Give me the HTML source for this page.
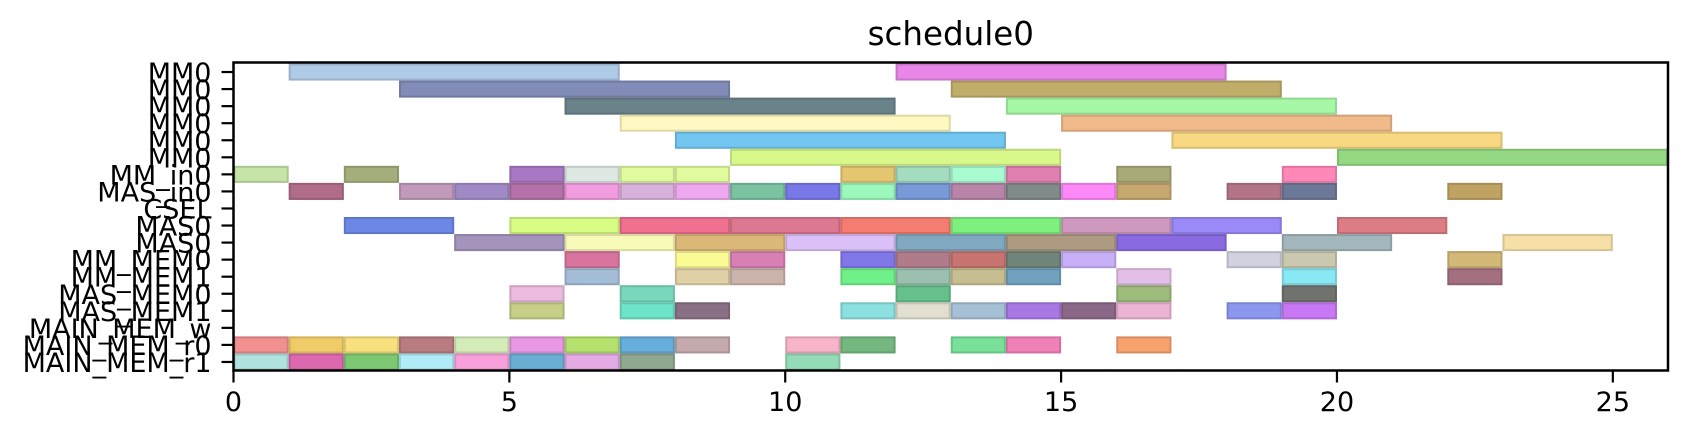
<!DOCTYPE html>
<html><head><meta charset="utf-8"><style>
html,body{margin:0;padding:0;background:#fff;}
svg{display:block;font-family:"DejaVu Sans","Liberation Sans",sans-serif;}
</style></head><body>
<svg id="chart" width="1687" height="438" xmlns="http://www.w3.org/2000/svg"></svg>
<script>
const rowLabels = ["MM0","MM0","MM0","MM0","MM0","MM0","MM_in0","MAS_in0","CSEL","MAS0","MAS0","MM_MEM0","MM_MEM1","MAS_MEM0","MAS_MEM1","MAIN_MEM_w","MAIN_MEM_r0","MAIN_MEM_r1"];
const xTicks = [0,5,10,15,20,25];
// task rows, start times, durations, colours
const taskRow = [
0,0, 1,1, 2,2, 3,3, 4,4, 5,5,
6,6,6,6,6,6,6,6,6,6,6,6,
7,7,7,7,7,7,7,7,7,7,7,7,7,7,7,7,7,7,
9,9,9,9,9,9,9,9,9,
10,10,10,10,10,10,10,10,10,
11,11,11,11,11,11,11,11,11,11,11,
12,12,12,12,12,12,12,12,12,12,
13,13,13,13,13,
14,14,14,14,14,14,14,14,14,14,14,
16,16,16,16,16,16,16,16,16,16,16,16,16,16,
17,17,17,17,17,17,17,17,17];
const taskStart = [
1,12, 3,13, 6,14, 7,15, 8,17, 9,20,
0,2,5,6,7,8,11,12,13,14,16,19,
1,3,4,5,6,7,8,9,10,11,12,13,14,15,16,18,19,22,
2,5,7,9,11,13,15,17,20,
4,6,8,10,12,14,16,19,23,
6,8,9,11,12,13,14,15,18,19,22,
6,8,9,11,12,13,14,16,19,22,
5,7,12,16,19,
5,7,8,11,12,13,14,15,16,18,19,
0,1,2,3,4,5,6,7,8,10,11,13,14,16,
0,1,2,3,4,5,6,7,10];
const taskDur = [
6,6, 6,6, 6,6, 6,6, 6,6, 6,6,
1,1,1,1,1,1,1,1,1,1,1,1,
1,1,1,1,1,1,1,1,1,1,1,1,1,1,1,1,1,1,
2,2,2,2,2,2,2,2,2,
2,2,2,2,2,2,2,2,2,
1,1,1,1,1,1,1,1,1,1,1,
1,1,1,1,1,1,1,1,1,1,
1,1,1,1,1,
1,1,1,1,1,1,1,1,1,1,1,
1,1,1,1,1,1,1,1,1,1,1,1,1,1,
1,1,1,1,1,1,1,1,1];
const taskColor = [
"#b0cbe8","#e887e8","#828cb8","#c0ad6a","#6a828a","#a6f8a6","#fff8c0","#f0ba8a","#72c6f0","#f8d880","#d8f88a","#94d884",
"#c6e4a8","#a4ae7c","#a878c4","#dee9e3","#e0fa9e","#e0fa9e","#e4c670","#a4dcc0","#a8fbd0","#e080b0","#a8aa78","#ff88b8",
"#b06c88","#c09ab8","#a08ac6","#b472a8","#f29ce0","#d8b0dc","#eea8f0","#7ac2a0","#7878e8","#9cf8bc","#7898d8","#b884a8","#808a88","#ff88f8","#c6a870","#b47488","#6c7898","#c0a262",
"#6c88e4","#d8fc84","#f07090","#dc7890","#f47c70","#7ef07e","#d09ac0","#9a8af8","#dc7c84",
"#a494bc","#f8fab8","#dcb878","#dcc0f8","#80a8c0","#ae9a80","#8a6ae0","#a2b6bc","#f6e0a8",
"#d8749e","#fbfb96","#d880b4","#8078e8","#b07c8a","#c87470","#70847a","#c8b0f8","#d0d2e0","#cac8ae","#d4b878",
"#a4bed8","#e0d0a6","#ccb4ac","#70f088","#9cc0b0","#c6be90","#70a2c0","#e4c0e8","#88e8f4","#a47080",
"#ecbce0","#7ad8bc","#66c08c","#9ebc7c","#70726e",
"#c6ce88","#6ee4ca","#8a7084","#8ce0e0","#e2ded0","#a6c0d6","#aa78e4","#8c6888","#ecb4d4","#8c98f0","#c878f4",
"#f29090","#f0cc68","#f8e07e","#b87c80","#d4ecb8","#e898e4","#b4e26c","#68aedc","#c4aaac","#f8b4c8","#74b880","#78e098","#f080b8","#f8a270",
"#b0e2de","#dc68b0","#7ec874","#b0ecf8","#f8a0dc","#6aaed4","#e4aae4","#90a890","#94dcb8"];

const svg = document.getElementById('chart');
const NS = "http://www.w3.org/2000/svg";
const X0 = 233.5, X1 = 1668, XMAX = 26;
const Y0 = 62.5, Y1 = 370.5;
const rowH = (Y1 - Y0 - 1) / rowLabels.length;
function xs(v){ return X0 + (X1 - X0) * v / XMAX; }
function yc(r){ return Y0 + 1 + rowH * (r + 0.5); }
function mk(tag, attrs, parent){
  const e = document.createElementNS(NS, tag);
  for (const k in attrs) e.setAttribute(k, attrs[k]);
  (parent || svg).appendChild(e);
  return e;
}

const title = mk('text', {x:(X0+X1)/2, y:45, 'text-anchor':'middle', 'font-size':32.5, fill:'#000'});


title.textContent = 'schedule0';

const bars = mk('g', {});


for (let i = 0; i < taskRow.length; i++) {
  const x = xs(taskStart[i]), w = xs(taskStart[i] + taskDur[i]) - x;
  const c = yc(taskRow[i]);
  const r = mk('rect', {x:x+1, y:c - rowH/2 + 1, width:w-2, height:rowH-2, fill:taskColor[i], stroke:taskColor[i], 'stroke-width':2}, bars);
  
  
  mk('rect', {x:x+1, y:c - rowH/2 + 1, width:w-2, height:rowH-2, fill:'none', stroke:'rgba(0,0,0,0.13)', 'stroke-width':2}, bars);
}

const frame = mk('rect', {x:X0, y:Y0, width:X1-X0, height:Y1-Y0, fill:'none', stroke:'#000', 'stroke-width':2.5});



const yAxis = mk('g', {});


for (let i = 0; i < rowLabels.length; i++) {
  const y = yc(i);
  mk('line', {x1:X0-12, x2:X0, y1:y, y2:y, stroke:'#000', 'stroke-width':2.2}, yAxis);
  const t = mk('text', {x:X0-22, y:y+10, 'text-anchor':'end', 'font-size':27, fill:'#000'}, yAxis);
  
  
  t.textContent = rowLabels[i];
}

const xAxis = mk('g', {});


for (const v of xTicks) {
  const x = xs(v);
  mk('line', {x1:x, x2:x, y1:Y1, y2:Y1+12, stroke:'#000', 'stroke-width':2.2}, xAxis);
  const t = mk('text', {x:x, y:411, 'text-anchor':'middle', 'font-size':27, fill:'#000'}, xAxis);
  
  
  t.textContent = v;
}
</script>
</body></html>
